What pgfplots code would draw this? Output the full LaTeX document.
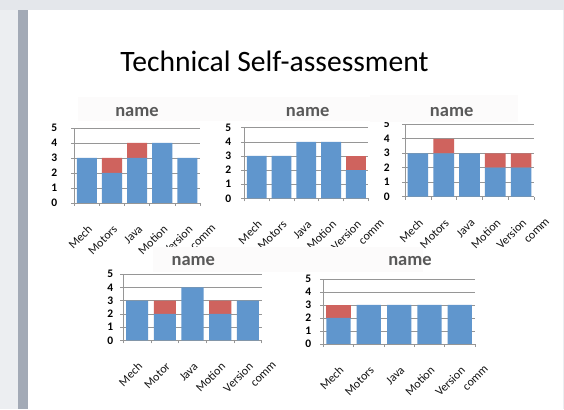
\documentclass[border=0pt]{standalone}
\usepackage{fontspec}
\setmainfont{Carlito}
\usepackage{pgfplots}
\pgfplotsset{compat=1.18}
\definecolor{barblue}{RGB}{96,150,205}
\definecolor{barred}{RGB}{207,99,94}
\definecolor{gridgray}{RGB}{150,150,150}
\definecolor{titlegray}{RGB}{89,89,89}
\definecolor{boxfill}{RGB}{252,251,251}
\definecolor{bgtop}{RGB}{228,231,235}
\definecolor{bgleft}{RGB}{236,238,241}
\definecolor{stripe}{RGB}{163,170,182}
\definecolor{labgray}{RGB}{20,20,20}
\pgfplotsset{
  minichart/.style={
    scale only axis, ybar stacked, bar width=0.8,
    anchor=south west,
    xmin=0.5, xmax=5.5, ymin=0, ymax=5, enlargelimits=false,
    ytick={0,1,2,3,4,5}, yticklabels={0,1,2,3,4,5},
    xtick={1,2,3,4,5},
    minor xtick={0.5,1.5,2.5,3.5,4.5,5.5},
    ymajorgrids, grid style={draw=gridgray, line width=0.6pt},
    axis x line*=bottom, axis y line*=left,
    axis line style={draw=gridgray, line width=0.6pt, -},
    tick style={draw=gridgray, line width=0.6pt},
    major x tick style={draw=none},
    tick align=outside, major tick length=3pt, minor tick length=3pt,
    yticklabel style={font=\bfseries\fontsize{11.5}{13}\selectfont, text=black, inner sep=0pt, anchor=east},
    xticklabel style={font=\fontsize{12}{14}\selectfont, text=labgray, inner sep=0pt,
       anchor=north east, xshift=-1pt, yshift=-17pt, rotate=45},
    every axis plot/.append style={draw=none},
  },
}
\newcommand{\vc}{\begin{tabular}[t]{@{}l@{}}\strut Version\\[1pt]\hspace*{23pt}\rlap{comm}\end{tabular}}
\newcommand{\tl}[1]{\strut #1}
\begin{document}
\begin{tikzpicture}
\path[use as bounding box] (0,0) rectangle (564pt,409pt);
\clip (0,0) rectangle (564pt,409pt);
\fill[white] (0,0) rectangle (564pt,409pt);
\fill[bgleft] (0,0) rectangle (18pt,409pt);
\fill[bgtop] (0,399pt) rectangle (564pt,409pt);
\fill[stripe] (18pt,0) rectangle (28pt,399pt);
\fill[bgleft] (563pt,0) rectangle (564pt,399pt);
\node[anchor=base, font=\fontsize{29.6}{33}\selectfont] at (274.5pt,337.3pt) {Technical Self-assessment};

% chart 1
\begin{axis}[minichart, at={(74.3pt,206pt)}, width=125.7pt, height=75pt,
  yticklabel style={xshift=-14pt},
  xticklabels={\tl{Mech},\tl{Motors},\tl{Java},\tl{Motion},\vc}]
\addplot[fill=barblue] coordinates {(1,3) (2,2) (3,3) (4,4) (5,3)};
\addplot[fill=barred] coordinates {(1,0) (2,1) (3,1) (4,0) (5,0)};
\end{axis}
% chart 2
\begin{axis}[minichart, at={(244.3pt,210.7pt)}, width=124pt, height=70.6pt,
  yticklabel style={xshift=-10pt},
  xticklabels={\tl{Mech},\tl{Motors},\tl{Java},\tl{Motion},\vc}]
\addplot[fill=barblue] coordinates {(1,3) (2,3) (3,4) (4,4) (5,2)};
\addplot[fill=barred] coordinates {(1,0) (2,0) (3,0) (4,0) (5,1)};
\end{axis}
% chart 3
\begin{axis}[minichart, at={(405pt,212.3pt)}, width=129pt, height=72.4pt,
  yticklabel style={xshift=-12pt},
  xticklabels={\tl{Mech},\tl{Motors},\tl{Java},\tl{Motion},\vc}]
\addplot[fill=barblue] coordinates {(1,3) (2,3) (3,3) (4,2) (5,2)};
\addplot[fill=barred] coordinates {(1,0) (2,1) (3,0) (4,1) (5,1)};
\end{axis}
% chart 4
\begin{axis}[minichart, at={(123.3pt,68.7pt)}, width=138.4pt, height=66pt,
  yticklabel style={xshift=-7pt},
  xticklabels={\tl{Mech},\tl{Motor},\tl{Java},\tl{Motion},\vc}]
\addplot[fill=barblue] coordinates {(1,3) (2,2) (3,4) (4,2) (5,3)};
\addplot[fill=barred] coordinates {(1,0) (2,1) (3,0) (4,1) (5,0)};
\end{axis}
% chart 5
\begin{axis}[minichart, at={(323.3pt,65pt)}, width=151.7pt, height=65pt,
  yticklabel style={xshift=-9pt},
  xticklabels={\tl{Mech},\tl{Motors},\tl{Java},\tl{Motion},\vc}]
\addplot[fill=barblue] coordinates {(1,2) (2,3) (3,3) (4,3) (5,3)};
\addplot[fill=barred] coordinates {(1,1) (2,0) (3,0) (4,0) (5,0)};
\end{axis}

% chart title boxes
\fill[boxfill] (78pt,288pt) rectangle (225pt,312pt);
\fill[boxfill] (225pt,288pt) rectangle (387pt,312pt);
\fill[boxfill] (370pt,287pt) rectangle (518pt,314pt);
\fill[boxfill] (153pt,137pt) rectangle (290pt,162pt);
\fill[boxfill] (290pt,137pt) rectangle (423pt,162pt);
\begin{scope}[every node/.style={anchor=base, font=\bfseries\fontsize{18.5}{20}\selectfont, text=titlegray, inner sep=0pt}]
\node at (137pt,292pt) {name};
\node at (307.7pt,292pt) {name};
\node at (451.7pt,292.5pt) {name};
\node at (193.3pt,143.3pt) {name};
\node at (410pt,143.3pt) {name};
\end{scope}
\end{tikzpicture}
\end{document}
